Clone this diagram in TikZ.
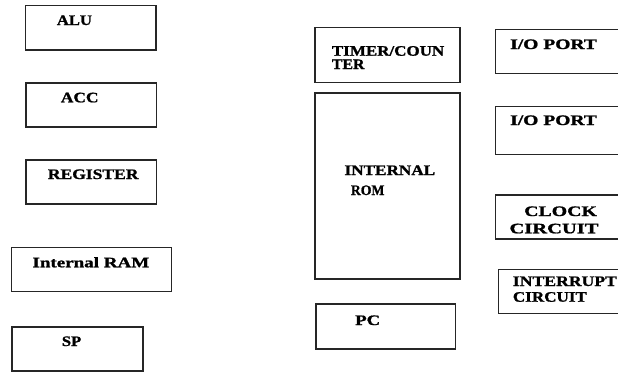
\documentclass[tikz,border=0pt]{standalone}
\usepackage{fontspec}
\usepackage{graphicx}
\setmainfont{Liberation Serif}[BoldFeatures={FakeBold=1.2}]
\tikzset{
  box/.style={draw=black!85, line width=1.2pt, rectangle, inner sep=0pt},
  lbl/.style={anchor=base west, inner sep=0pt, font=\fontsize{14.5}{16}\selectfont\bfseries, text=black},
}
\newcommand\fitw[2]{\resizebox{#1pt}{\height}{#2}}
\begin{document}
\begin{tikzpicture}[x=1pt,y=-1pt]
\useasboundingbox (0,0) rectangle (618,372);
\clip (0,0) rectangle (618,372);
% boxes: \node at centre with size
\newcommand\bx[5]{\node[box, minimum width={(#4)-(#2)}, minimum height={(#5)-(#3)}] (#1) at ({((#2)+(#4))/2},{((#3)+(#5))/2}) {};}
\bx{alu}{25.7}{5.7}{156}{50}
\bx{acc}{26}{83}{156.3}{127}
\bx{reg}{26}{160}{156.5}{204}
\bx{ram}{11.7}{247.7}{171.7}{291.7}
\bx{sp}{12}{327}{143}{371}
\bx{tim}{315}{27.3}{460}{82.3}
\bx{rom}{315}{93}{460}{279}
\bx{pc}{316}{304}{455.7}{349}
\bx{iop1}{495.7}{29.3}{630}{73.3}
\bx{iop2}{495.7}{106.7}{630}{154.3}
\bx{clk}{495.7}{195}{630}{239}
\bx{intr}{498.3}{269.3}{630}{313.3}
% labels
\node[lbl] (alut) at (56.7,25) {\fitw{35}{ALU}};
\node[lbl] (acct) at (60.7,102.3) {\fitw{37.6}{ACC}};
\node[lbl] (regt) at (47.7,179) {\fitw{90.6}{REGISTER}};
\node[lbl] (ramt) at (32.3,267.3) {\fitw{116.7}{Internal RAM}};
\node[lbl] (spt) at (61.7,346) {\fitw{19.3}{SP}};
\node[lbl] (timt1) at (331.7,55.7) {\fitw{112.3}{TIMER/COUN}};
\node[lbl] (timt2) at (331.7,69) {\fitw{32.6}{TER}};
\node[lbl] (romt1) at (344.3,175) {\fitw{90.7}{INTERNAL}};
\node[lbl] (romt2) at (350.7,195) {\fitw{33.5}{ROM}};
\node[lbl] (pct) at (355,325) {\fitw{25}{PC}};
\node[lbl] (iop1t) at (510,49) {\fitw{86.7}{I/O PORT}};
\node[lbl] (iop2t) at (510,125) {\fitw{86.7}{I/O PORT}};
\node[lbl] (clkt1) at (524,216) {\fitw{72.7}{CLOCK}};
\node[lbl] (clkt2) at (509.3,233.3) {\fitw{89}{CIRCUIT}};
\node[lbl] (intrt1) at (512.7,286) {\fitw{104}{INTERRUPT}};
\node[lbl] (intrt2) at (512.7,301.7) {\fitw{74}{CIRCUIT}};
\end{tikzpicture}
\end{document}
